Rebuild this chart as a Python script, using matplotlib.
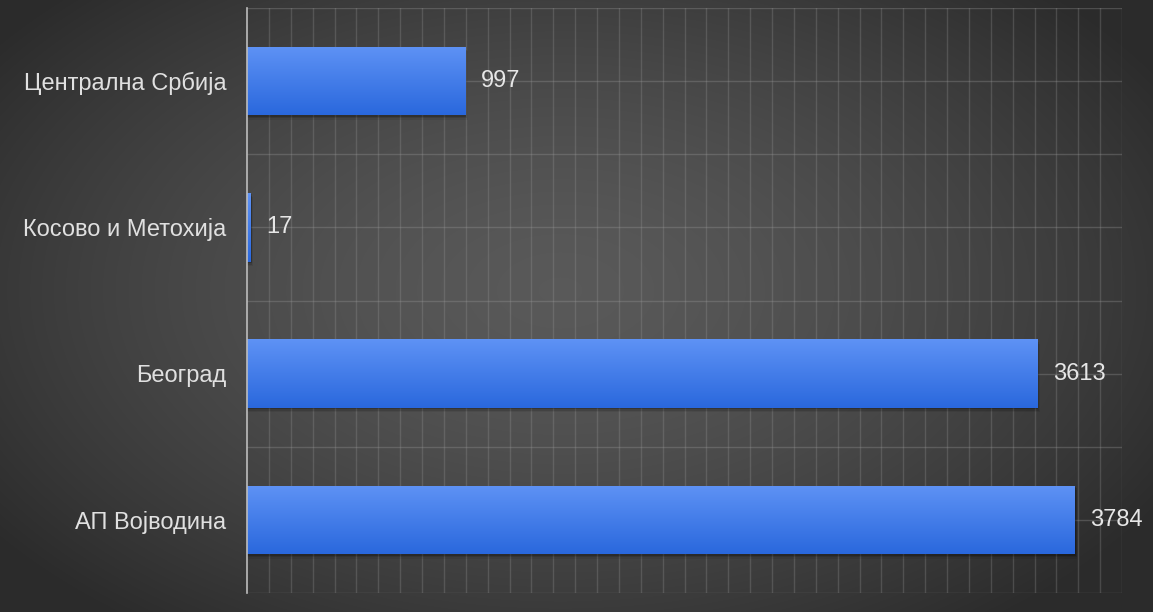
import numpy as np
import matplotlib
matplotlib.use("Agg")
import matplotlib.pyplot as plt
from matplotlib.patches import Rectangle

categories = ["Централна Србија", "Косово и Метохија", "Београд", "АП Војводина"]
values = [997, 17, 3613, 3784]

W, H = 1153, 612
fig = plt.figure(figsize=(W / 100, H / 100), dpi=100)

# radial background
bg = fig.add_axes([0, 0, 1, 1], zorder=0)
yy, xx = np.mgrid[0:H, 0:W]
cx, cy = 560, 290
r = np.sqrt(((xx - cx) / 700.0) ** 2 + ((yy - cy) / 420.0) ** 2)
v = 0.35 - 0.18 * np.clip(r, 0, 1) ** 1.5
img = np.dstack([v, v, v])
bg.imshow(img, aspect="auto", extent=[0, 1, 0, 1], origin="upper")
bg.set_axis_off()

ax = fig.add_axes([247 / W, 1 - 593 / H, (1122 - 247) / W, (593 - 8) / H], zorder=1)
ax.patch.set_alpha(0)
n = len(categories)
ax.set_xlim(0, 4000)
ax.set_ylim(n - 0.5, -0.5)

# grid
for x in range(100, 4001, 100):
    ax.axvline(x, color="#9a9a9a", lw=1.0, alpha=0.28, zorder=1)
for y in np.arange(-0.5, n, 0.5):
    ax.axhline(y, color="#9a9a9a", lw=1.0, alpha=0.32, zorder=1)

grad = np.linspace(0, 1, 64).reshape(-1, 1)
top = np.array([0x5e, 0x92, 0xf5]) / 255
bot = np.array([0x2a, 0x68, 0xdd]) / 255
gimg = top[None, None, :] * (1 - grad[:, :, None]) + bot[None, None, :] * grad[:, :, None]

bh = 0.47
for i, (c, val) in enumerate(zip(categories, values)):
    # soft shadow
    for k, a in enumerate([0.18, 0.12, 0.07]):
        sh = Rectangle((0, i - bh / 2 + 0.01 * (k + 1)), val + 4 * (k + 1), bh,
                       color="black", alpha=a, zorder=2, lw=0)
        ax.add_patch(sh)
    rect = Rectangle((0, i - bh / 2), val, bh, facecolor="#3f7deb", edgecolor="none", zorder=3)
    ax.add_patch(rect)
    im = ax.imshow(gimg, extent=[0, max(val, 1), i + bh / 2, i - bh / 2], aspect="auto", zorder=4, origin="upper")
    im.set_clip_path(rect)
    ax.text(val + 70, i, str(val), color="#e6e6e6", fontsize=17, va="center", ha="left",
            family="Liberation Sans", zorder=5)

ax.set_yticks(range(n))
ax.set_yticklabels(categories, color="#e0e0e0", fontsize=17, family="Liberation Sans")
ax.tick_params(axis="y", length=0, pad=15)
ax.set_xticks([])
for s in ["top", "right", "bottom"]:
    ax.spines[s].set_visible(False)
ax.spines["left"].set_color("#bdbdbd")
ax.spines["left"].set_linewidth(1.2)
ax.spines["left"].set_zorder(6)
ax.set_xlim(0, 4000)
ax.set_ylim(n - 0.5, -0.5)

fig.savefig("out.png", dpi=100)
